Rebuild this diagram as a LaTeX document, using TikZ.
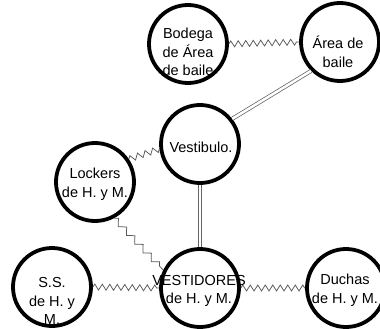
\documentclass[tikz,border=0pt]{standalone}
\usepackage{fontspec}
\setmainfont{Liberation Sans}
\usetikzlibrary{decorations.pathmorphing}
\begin{document}
\begin{tikzpicture}[x=1pt,y=-1pt,
  room/.style={circle, draw=black, line width=3.8pt, minimum size=78pt, inner sep=0pt},
  lbl/.style={align=center, font=\fontsize{14.5}{18.5}\selectfont, inner sep=0pt},
  zz/.style={draw=black!65, line width=0.75pt, decorate, decoration={zigzag, segment length=7.5pt, amplitude=3pt}},
  stairs/.style={draw=black!65, line width=0.75pt, decorate, decoration={zigzag, segment length=12pt, amplitude=3pt}},
  dbl/.style={draw=black!60, double=white, double distance=2.5pt, line width=0.75pt},
]
\path[use as bounding box] (0,0) rectangle (380,329);
\node[room] (B) at (188,44) {};
\node[room] (A) at (340,42) {};
\node[room] (V) at (200,144) {};
\node[room] (L) at (95,182) {};
\node[room] (D) at (200,288) {};
\node[room] (S) at (52,287) {};
\node[room] (U) at (346,288) {};

\draw[zz] (B.east) -- (A.west);
\draw[dbl] (A.225) -- (V.38);
\draw[zz, decoration={segment length=8pt, amplitude=3pt}] (L.34) -- (V.187);
\draw[dbl] (V.south) -- (D.north);
\draw[stairs] (L.-62) -- (D.154);
\draw[zz] (S.east) -- (D.west);
\draw[zz] (D.east) -- (U.west);

\node[lbl] (tB) at (188,52) {Bodega\\de Área\\de baile};
\node[lbl] (tA) at (338,52) {Área de\\baile};
\node[lbl] (tV) at (201,147) {Vestibulo.};
\node[lbl] (tL) at (95,184) {Lockers\\de H. y M.};
\node[lbl] (tD) at (199,291) {VESTIDORES\\de H. y M.};
\node[lbl] (tS) at (52,301) {S.S.\\de H. y\\M.};
\node[lbl] (tU) at (345,290) {Duchas\\de H. y M.};
\end{tikzpicture}
\end{document}
